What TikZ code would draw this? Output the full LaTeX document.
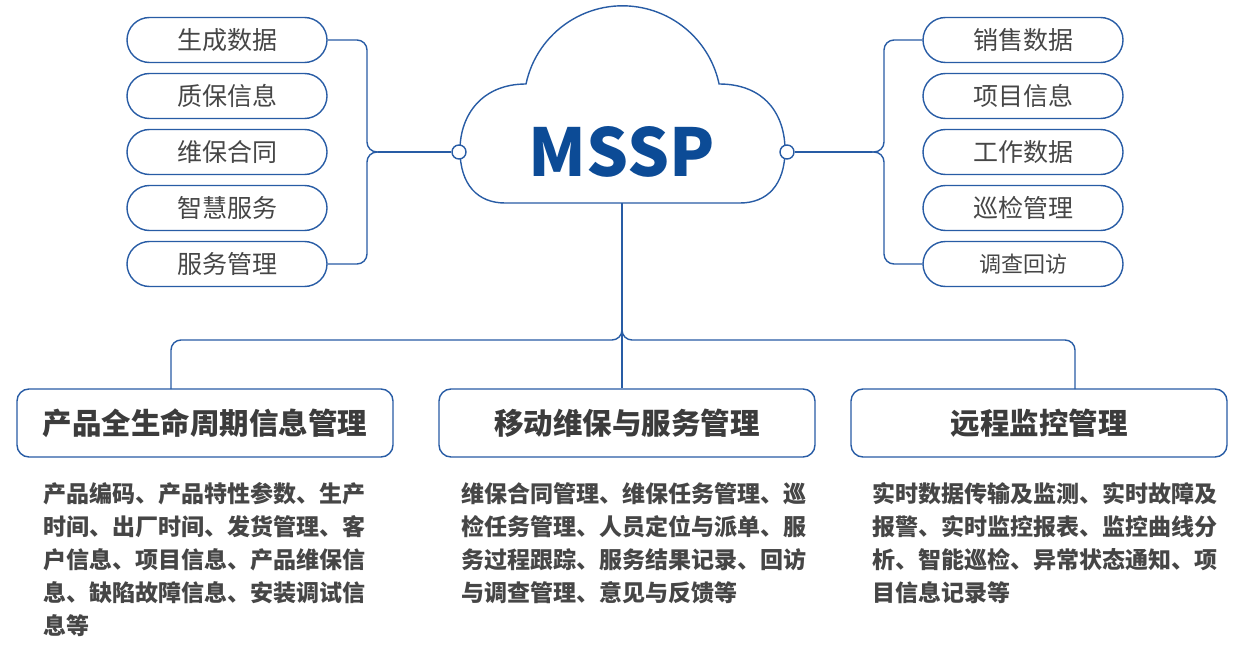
\documentclass[tikz,border=0pt]{standalone}
\usepackage{fontspec}
\setmainfont{Noto Sans CJK SC}
\begin{document}
\begin{tikzpicture}[x=1pt,y=-1pt,
  line/.style={draw=lineblue,line width=1.4pt},
  pill/.style={line,rectangle,rounded corners=22.5pt,minimum width=200pt,minimum height=45pt,inner sep=0pt,text=txtgray,font=\fontsize{25}{25}\selectfont},
  bigbox/.style={line,rectangle,rounded corners=12pt,minimum width=376pt,minimum height=68pt,inner sep=0pt,text=titlegray,font=\bfseries\fontsize{29.5}{30}\selectfont},
  desc/.style={anchor=north west,inner sep=0pt,align=left,text=txtgray,font=\bfseries\fontsize{23}{33}\selectfont},
  port/.style={line,circle,fill=white,minimum size=14pt,inner sep=0pt},
  conn/.style={line,rounded corners=10pt}]
\definecolor{lineblue}{RGB}{40,92,165}
\definecolor{txtgray}{RGB}{70,70,70}
\definecolor{titlegray}{RGB}{60,60,60}
\definecolor{mblue}{RGB}{12,75,150}
\useasboundingbox[fill=white] (0,0) rectangle (1242,650);

% cloud
\draw[line] (526,84) arc[start angle=192,end angle=348,radius=98.7]
  .. controls (765,84) and (785,115) .. (785,150)
  .. controls (785,185) and (767,203) .. (740,203) -- (505,203)
  .. controls (478,203) and (460,185) .. (460,150)
  .. controls (460,115) and (482,84) .. (526,84) -- cycle;
\node[font=\bfseries\fontsize{66}{66}\selectfont,text=mblue,inner sep=0pt] (mssp) at (622,152) {MSSP};
\coordinate (cb) at (622,203);

% left pills
\node[pill] (l1) at (227,40) {生成数据};
\node[pill] (l2) at (227,96) {质保信息};
\node[pill] (l3) at (227,152) {维保合同};
\node[pill] (l4) at (227,208) {智慧服务};
\node[pill] (l5) at (227,264) {服务管理};
% right pills
\node[pill] (r1) at (1023,40) {销售数据};
\node[pill] (r2) at (1023,96) {项目信息};
\node[pill] (r3) at (1023,152) {工作数据};
\node[pill] (r4) at (1023,208) {巡检管理};
\node[pill,font=\fontsize{22}{22}\selectfont] (r5) at (1023,264) {调查回访};

\node[port] (pl) at (459,152) {};
\node[port] (pr) at (787,152) {};

% left brace
\draw[conn] (l1.east) -- (367,40) -- (367,152) -- (380,152);
\draw[conn] (l5.east) -- (367,264) -- (367,152) -- (380,152);
\draw[line] (378,152) -- (pl.west);
% right brace
\draw[conn] (r1.west) -- (884,40) -- (884,152) -- (870,152);
\draw[conn] (r5.west) -- (884,264) -- (884,152) -- (870,152);
\draw[line] (872,152) -- (pr.east);

% bottom boxes
\node[bigbox] (b1) at (205,423) {产品全生命周期信息管理};
\node[bigbox] (b2) at (627,423) {移动维保与服务管理};
\node[bigbox] (b3) at (1039,423) {远程监控管理};

\draw[line] (cb) -- (cb |- b2.north);
\draw[conn] (171,389) -- (171,340) -- (622,340) -- (622,326);
\draw[conn] (1075,389) -- (1075,340) -- (622,340) -- (622,326);

\node[desc] (d1) at (43,482) {产品编码、产品特性参数、生产\\时间、出厂时间、发货管理、客\\户信息、项目信息、产品维保信\\息、缺陷故障信息、安装调试信\\息等};
\node[desc] (d2) at (461,482) {维保合同管理、维保任务管理、巡\\检任务管理、人员定位与派单、服\\务过程跟踪、服务结果记录、回访\\与调查管理、意见与反馈等};
\node[desc] (d3) at (872,482) {实时数据传输及监测、实时故障及\\报警、实时监控报表、监控曲线分\\析、智能巡检、异常状态通知、项\\目信息记录等};
\end{tikzpicture}
\end{document}
